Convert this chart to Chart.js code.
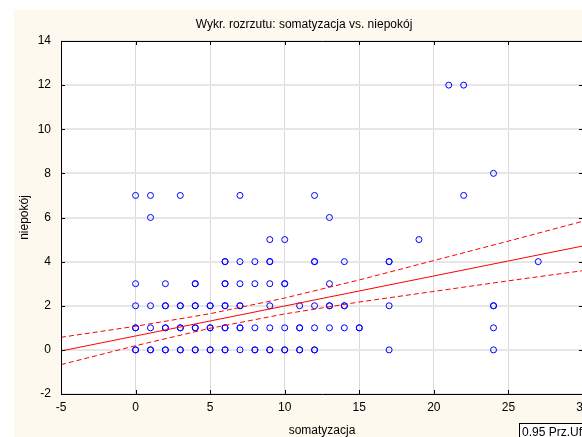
<!DOCTYPE html>
<html><head><meta charset="utf-8">
<script src="https://cdn.jsdelivr.net/npm/chart.js@4/dist/chart.umd.min.js"></script>
<style>
html,body{margin:0;padding:0;overflow:hidden;background:#fff;width:582px;height:437px}
#wrap{position:absolute;left:0;top:0;width:608px;height:437px}
</style>
</head><body>
<div id="wrap"><canvas id="c" width="608" height="437"></canvas></div>
<script>
// ---- data ----
const niepokojLevels = [0, 1, 2, 3, 4, 5, 6, 7, 8, 12];
const somAt0  = [0,0,1,1,2,2,3,3,4,4,5,5,6,6,7,8,8,9,9,10,10,11,11,12,12,17,24];
const somAt1  = [0,0,1,2,2,3,3,4,4,5,5,6,6,7,7,8,9,10,11,11,12,13,14,15,15,24];
const somAt2  = [0,1,2,2,3,3,4,4,5,5,6,6,7,7,9,11,12,13,13,14,14,17,24,24];
const somAt3  = [0,2,4,4,6,6,7,8,9,10,10,13];
const somAt4  = [6,6,7,8,9,9,12,12,14,17,17,27];
const somAt5  = [9,10,19];
const somAt6  = [1,13];
const somAt7  = [0,1,3,7,12,22];
const somAt8  = [24];
const somAt12 = [21,22];
const somRows = [somAt0, somAt1, somAt2, somAt3, somAt4, somAt5, somAt6, somAt7, somAt8, somAt12];

// regression line and 0.95 confidence band, read at these x positions
const lineX  = [-5, 0, 5, 10, 15, 20, 25, 30];
const fitY   = [-0.05, 0.63, 1.31, 1.99, 2.67, 3.35, 4.03, 4.71];
const upperY = [0.57, 1.07, 1.64, 2.35, 3.17, 4.05, 4.93, 5.83];
const lowerY = [-0.67, 0.19, 0.98, 1.63, 2.17, 2.65, 3.13, 3.59];

const xTicks = [-5, 0, 5, 10, 15, 20, 25, 30];
const yTicks = [-2, 0, 2, 4, 6, 8, 10, 12, 14];

const titleText = 'Wykr. rozrzutu: somatyzacja vs. niepokój';
const xTitle = 'somatyzacja';
const yTitle = 'niepokój';
const legendText = '0.95 Prz.Ufn.';

// ---- build ----
const points = [];
somRows.forEach((row, i) => row.forEach(x => points.push({x: x, y: niepokojLevels[i]})));
const toXY = ys => lineX.map((x, i) => ({x: x, y: ys[i]}));

const FONT = {family: "'Liberation Sans', Arial, sans-serif", size: 12, weight: 'normal'};

const framePlugin = {
  id: 'frame',
  beforeDraw(chart) {
    const {ctx, chartArea: a} = chart;
    ctx.save();
    ctx.fillStyle = '#ffffff';
    ctx.fillRect(0, 0, chart.width, chart.height);
    ctx.fillStyle = '#fdf9ee';
    ctx.fillRect(14, 10, chart.width - 28, chart.height);
    ctx.fillStyle = '#ffffff';
    ctx.fillRect(a.left, a.top, a.right - a.left, a.bottom - a.top);
    ctx.restore();
  },
  afterDraw(chart) {
    const {ctx, chartArea: a} = chart;
    const sx = chart.scales.x, sy = chart.scales.y;
    ctx.save();
    ctx.strokeStyle = '#000';
    ctx.lineWidth = 1;
    ctx.beginPath();
    ctx.rect(Math.round(a.left) + 0.5, Math.round(a.top) + 0.5, Math.round(a.right - a.left), Math.round(a.bottom - a.top));
    ctx.stroke();
    ctx.beginPath();
    xTicks.forEach(v => {
      const px = Math.round(sx.getPixelForValue(v)) + 0.5;
      ctx.moveTo(px, a.top); ctx.lineTo(px, a.top + 4);
      ctx.moveTo(px, a.bottom); ctx.lineTo(px, a.bottom - 4);
    });
    yTicks.forEach(v => {
      const py = Math.round(sy.getPixelForValue(v)) + 0.5;
      ctx.moveTo(a.left, py); ctx.lineTo(a.left + 4, py);
      ctx.moveTo(a.right, py); ctx.lineTo(a.right - 4, py);
    });
    ctx.stroke();
    // legend box (cut by the picture edge)
    ctx.fillStyle = '#ffffff';
    ctx.fillRect(519.5, 423.5, 120, 30);
    ctx.strokeRect(519.5, 423.5, 120, 30);
    ctx.fillStyle = '#000';
    ctx.font = "12px 'Liberation Sans', Arial, sans-serif";
    ctx.textBaseline = 'alphabetic';
    ctx.fillText(legendText, 522, 436);
    ctx.restore();
  }
};

new Chart(document.getElementById('c'), {
  type: 'scatter',
  data: {
    datasets: [
      {label: 'dane', data: points, order: 2, showLine: false, pointStyle: 'circle', pointRadius: 3,
       borderColor: '#0000ff', backgroundColor: 'rgba(0,0,0,0)', borderWidth: 1},
      {label: 'regresja', data: toXY(fitY), order: 1, showLine: true, pointRadius: 0,
       borderColor: '#ff0000', borderWidth: 1, fill: false},
      {label: 'górna', data: toXY(upperY), order: 1, showLine: true, pointRadius: 0,
       borderColor: '#ff0000', borderWidth: 1, borderDash: [5, 3], fill: false},
      {label: 'dolna', data: toXY(lowerY), order: 1, showLine: true, pointRadius: 0,
       borderColor: '#ff0000', borderWidth: 1, borderDash: [5, 3], fill: false}
    ]
  },
  options: {
    responsive: false,
    animation: false,
    events: [],
    layout: {padding: 0},
    plugins: {
      legend: {display: false},
      tooltip: {enabled: false},
      title: {display: true, text: titleText, font: FONT, color: '#000', padding: {top: 17, bottom: 9.6}}
    },
    scales: {
      x: {
        type: 'linear', min: -5, max: 30,
        afterBuildTicks: s => { s.ticks = xTicks.map(v => ({value: v})); },
        ticks: {font: FONT, color: '#000', padding: 6, maxRotation: 0},
        grid: {color: '#d9d9d9', lineWidth: 1, drawTicks: false},
        border: {display: false},
        title: {display: true, text: xTitle, font: FONT, color: '#000', padding: {top: 0, bottom: -1}},
        afterFit: s => { s.height = 43; }
      },
      y: {
        type: 'linear', min: -2, max: 14,
        afterBuildTicks: s => { s.ticks = yTicks.map(v => ({value: v})); },
        ticks: {font: FONT, color: '#000', padding: 10},
        grid: {color: '#e6e6e6', lineWidth: 2, drawTicks: false},
        border: {display: false},
        title: {display: true, text: yTitle, font: FONT, color: '#000', padding: {top: 17, bottom: 0}},
        afterFit: s => { s.width = 61; }
      },
      y2: {
        type: 'linear', position: 'right', display: true,
        ticks: {display: false},
        grid: {display: false, drawTicks: false},
        border: {display: false},
        afterFit: s => { s.width = 25; }
      }
    }
  },
  plugins: [framePlugin]
});
</script>
</body></html>
